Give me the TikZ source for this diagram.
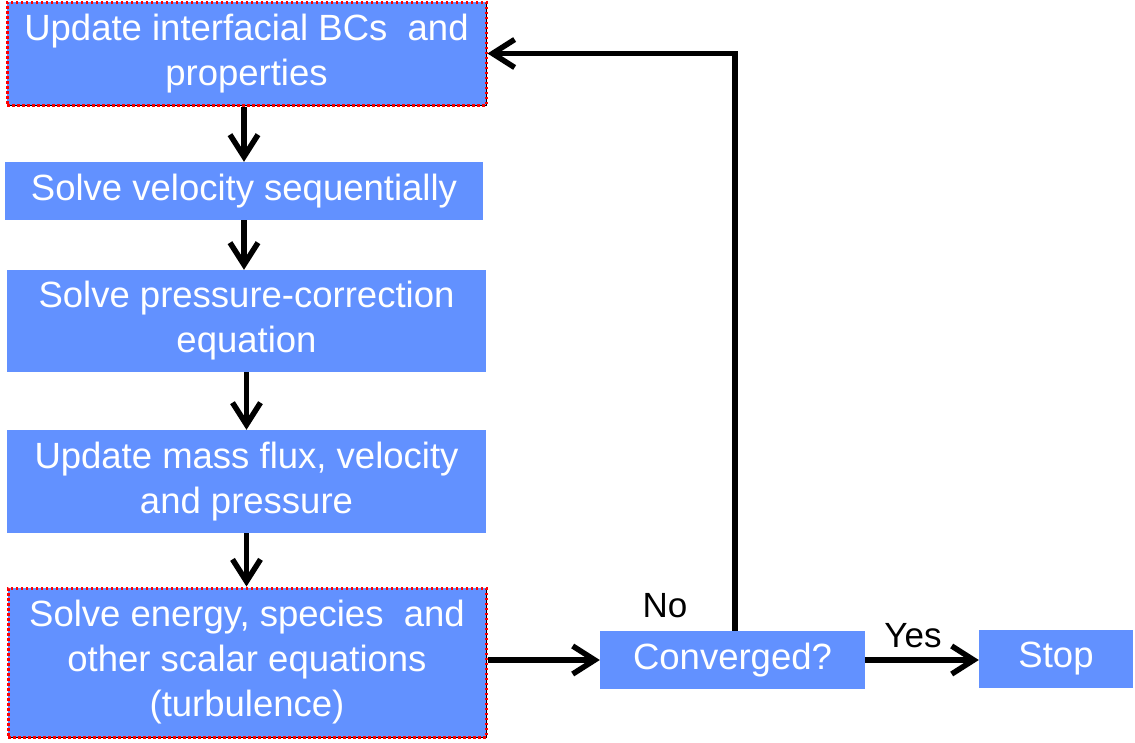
\documentclass[tikz,border=0pt]{standalone}
\usepackage{fontspec}
\setmainfont{Liberation Sans}
\usetikzlibrary{arrows.meta}
\definecolor{boxblue}{RGB}{98,145,255}
\begin{document}
\begin{tikzpicture}[
		x=1pt, y=-1pt,
		stepbox/.style={rectangle, fill=boxblue, text=white, align=center, inner sep=0pt, font=\fontsize{36.5}{45}\selectfont},
		dotbox/.style={stepbox, draw=red, dash pattern=on 2.5pt off 2.5pt, line width=3pt, preaction={draw=black, solid, line width=1pt}},
		flow/.style={-{Straight Barb[length=22pt, width=28pt]}, line width=5.5pt},
		lbl/.style={inner sep=0pt, font=\fontsize{35}{40}\selectfont},
	]
	\useasboundingbox (0,0) rectangle (1135,742);

	% main column
	\node[dotbox, minimum width=479, minimum height=103]  (upd)  at (246.5, 53.5) {Update interfacial BCs\ \ and\\properties};
	\node[stepbox, minimum width=478, minimum height=58]  (vel)  at (244, 191)    {Solve velocity sequentially};
	\node[stepbox, minimum width=479, minimum height=102] (pres) at (246.5, 321)  {Solve pressure-correction\\equation};
	\node[stepbox, minimum width=479, minimum height=103] (mass) at (246.5, 481.5){Update mass flux, velocity\\and pressure};
	\node[dotbox, minimum width=478, minimum height=149]  (scal) at (247, 662.5)  {Solve energy, species\ \ and\\other scalar equations\\(turbulence)};

	% convergence check
	\node[stepbox, minimum width=265, minimum height=58] (conv) at (732.5, 660) {Converged?};
	\node[stepbox, minimum width=154, minimum height=58] (stop) at (1056, 659)  {Stop};

	% labels
	\node[lbl] (no)  at (665, 606) {No};
	\node[lbl] (yes) at (913, 636) {Yes};

	% arrows down the column
	\draw[flow] (upd.south -| vel.north)   -- (vel.north);
	\draw[flow] (vel.south)                -- (vel.south |- pres.north);
	\draw[flow] (pres.south)               -- (pres.south |- mass.north);
	\draw[flow] (mass.south)               -- (mass.south |- scal.north);

	% to the check, and back
	\draw[flow] (scal.east |- conv.west) -- (conv.west);
	\draw[flow] (conv.east) -- (conv.east -| stop.west);
	\draw[flow] ([xshift=2.5pt]conv.north) |- (upd.east);
\end{tikzpicture}
\end{document}
